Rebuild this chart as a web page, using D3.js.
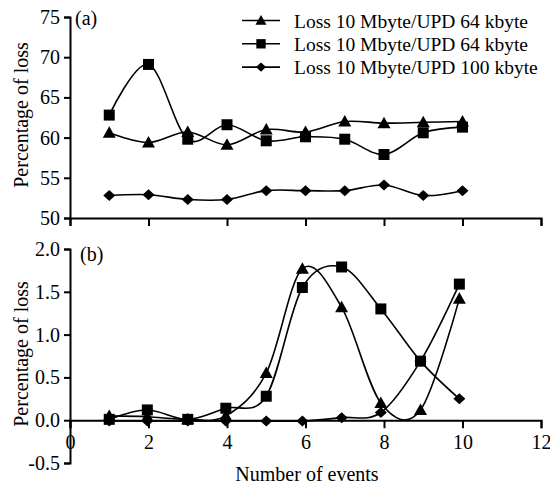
<!DOCTYPE html>
<meta charset='utf-8'>
<html>
  <head>
    <script src="https://d3js.org/d3.v7.min.js"></script>
    <style>
      body { margin: 0; background: #fff; }
      text { font-family: "Liberation Serif", "Times New Roman", serif; fill: #000; }
    </style>
  </head>
  <body>
    <div id="chart"></div>
    <script>
        // number of events for each point (panel b is drawn slightly left of the ticks)
        var eventsA = [1, 2, 3, 4, 5, 6, 7, 8, 9, 10]
        var eventsB = [1, 1.97, 3, 3.97, 5, 5.92, 6.92, 7.92, 8.93, 9.92]

        // panel (a) percentage of loss
        var triA = [60.6, 59.4, 60.7, 59.1, 61.0, 60.7, 62.0, 61.8, 61.9, 62.0]
        var sqA  = [62.8, 69.1, 59.8, 61.6, 59.6, 60.1, 59.8, 57.9, 60.6, 61.3]
        var diaA = [52.8, 52.9, 52.3, 52.3, 53.4, 53.4, 53.4, 54.1, 52.8, 53.4]

        // panel (b) percentage of loss (the curves cross at event 9, markers swap at 10)
        var triB = [0.05, 0.04, 0.01, 0.05, 0.55, 1.77, 1.32, 0.20, 0.12, 1.42]
        var sqB  = [0.01, 0.12, 0.01, 0.14, 0.28, 1.55, 1.79, 1.30, 0.69, 0.25]
        var diaB = [-0.01, -0.01, -0.01, -0.01, -0.01, -0.01, 0.03, 0.09, 0.69, 1.59]
        var sqBMarks  = ['sq','sq','sq','sq','sq','sq','sq','sq','sq','dia']
        var diaBMarks = ['dia','dia','dia','dia','dia','dia','dia','dia','dia','sq']

        var legendNames = ['Loss 10 Mbyte/UPD 64 kbyte', 'Loss 10 Mbyte/UPD 64 kbyte', 'Loss 10 Mbyte/UPD 100 kbyte']
        var legendMarks = ['tri', 'sq', 'dia']

        var ticksA = [50, 55, 60, 65, 70, 75]
        var ticksB = [-0.5, 0, 0.5, 1.0, 1.5, 2.0]
        var ticksX = [0, 2, 4, 6, 8, 10, 12]

        var W = 550, H = 489
        var svg = d3.select('#chart').append('svg')
            .attr('width', W).attr('height', H)

        // marker shapes
        var shapes = {
            tri: 'M0,-6.5L6.5,5L-6.5,5Z',
            sq: 'M-5.5,-5.5H5.5V5.5H-5.5Z',
            dia: 'M0,-5.5L6,0L0,5.5L-6,0Z'
        }

        // Scales
        var xScale = d3.scaleLinear().domain([0, 12]).range([70, 541])
        var yA = d3.scaleLinear().domain([50, 75]).range([218, 17])
        var yB = d3.scaleLinear().domain([-0.5, 2.0]).range([463, 249])

        var curve = d3.curveCatmullRom.alpha(0)

        function drawSeries(xs, vals, yScale, marks) {
            var pts = xs.map(function (x, i) { return [xScale(x), yScale(vals[i]), marks[i]] })
            svg.append('path')
                .attr('d', d3.line().curve(curve)(pts))
                .attr('fill', 'none')
                .attr('stroke', '#000')
                .attr('stroke-width', 1.6)
            svg.append('g').selectAll('path')
                .data(pts)
                .enter()
                .append('path')
                .attr('transform', function (d) { return 'translate(' + d[0] + ',' + d[1] + ')' })
                .attr('d', function (d) { return shapes[d[2]] })
                .attr('fill', '#000')
        }
        function same(m) { return eventsA.map(function () { return m }) }

        // axes of panel (a)
        var yAxisA = d3.axisLeft(yA).tickValues(ticksA).tickSize(6).tickPadding(4)
        svg.append('g').attr('transform', 'translate(70,0)').call(yAxisA)
        var xAxisA = d3.axisBottom(xScale).tickValues(ticksX).tickSize(8).tickFormat('')
        svg.append('g').attr('transform', 'translate(0,218)').call(xAxisA)

        // axes of panel (b), plain hyphen for the negative label
        var fmt = d3.format('.1f')
        var yAxisB = d3.axisLeft(yB).tickValues(ticksB).tickSize(6).tickPadding(4)
            .tickFormat(function (d) { return fmt(d).replace('\u2212', '-') })
        svg.append('g').attr('transform', 'translate(70,0)').call(yAxisB)
        var xAxisB = d3.axisBottom(xScale).tickValues(ticksX).tickSize(8).tickPadding(7)
        svg.append('g').attr('transform', 'translate(0,' + yB(0) + ')').call(xAxisB)

        svg.selectAll('.domain').attr('stroke', '#000').attr('stroke-width', 2)
        svg.selectAll('.tick line').attr('stroke', '#000').attr('stroke-width', 2)
        svg.selectAll('.tick text').style('font-size', '20px').style('font-family', '"Liberation Serif", serif').attr('fill', '#000')

        // data
        drawSeries(eventsA, triA, yA, same('tri'))
        drawSeries(eventsA, sqA, yA, same('sq'))
        drawSeries(eventsA, diaA, yA, same('dia'))
        drawSeries(eventsB, diaB, yB, diaBMarks)
        drawSeries(eventsB, triB, yB, same('tri'))
        drawSeries(eventsB, sqB, yB, sqBMarks)

        // panel labels
        svg.append('text').attr('x', 75).attr('y', 25).style('font-size', '20px').text('(a)')
        svg.append('text').attr('x', 80).attr('y', 261).style('font-size', '20px').text('(b)')

        // axis titles
        svg.append('text').attr('transform', 'translate(28,115) rotate(-90)')
            .attr('text-anchor', 'middle').style('font-size', '20px').text('Percentage of loss')
        svg.append('text').attr('transform', 'translate(28,354) rotate(-90)')
            .attr('text-anchor', 'middle').style('font-size', '20px').text('Percentage of loss')
        svg.append('text').attr('x', 307).attr('y', 481)
            .attr('text-anchor', 'middle').style('font-size', '20px').text('Number of events')

        // legend
        var legend = svg.append('g').selectAll('g')
            .data(legendNames)
            .enter()
            .append('g')
            .attr('transform', function (d, i) { return 'translate(242,' + (20.5 + i * 23.3) + ')' })
        legend.append('line').attr('x1', 0).attr('x2', 38).attr('stroke', '#000').attr('stroke-width', 1.6)
        legend.append('path').attr('transform', 'translate(19,0) scale(0.85)')
            .attr('d', function (d, i) { return shapes[legendMarks[i]] })
        legend.append('text').attr('x', 52).attr('y', 7).style('font-size', '19.5px').text(function (d) { return d })
    </script>
  </body>
</html>
